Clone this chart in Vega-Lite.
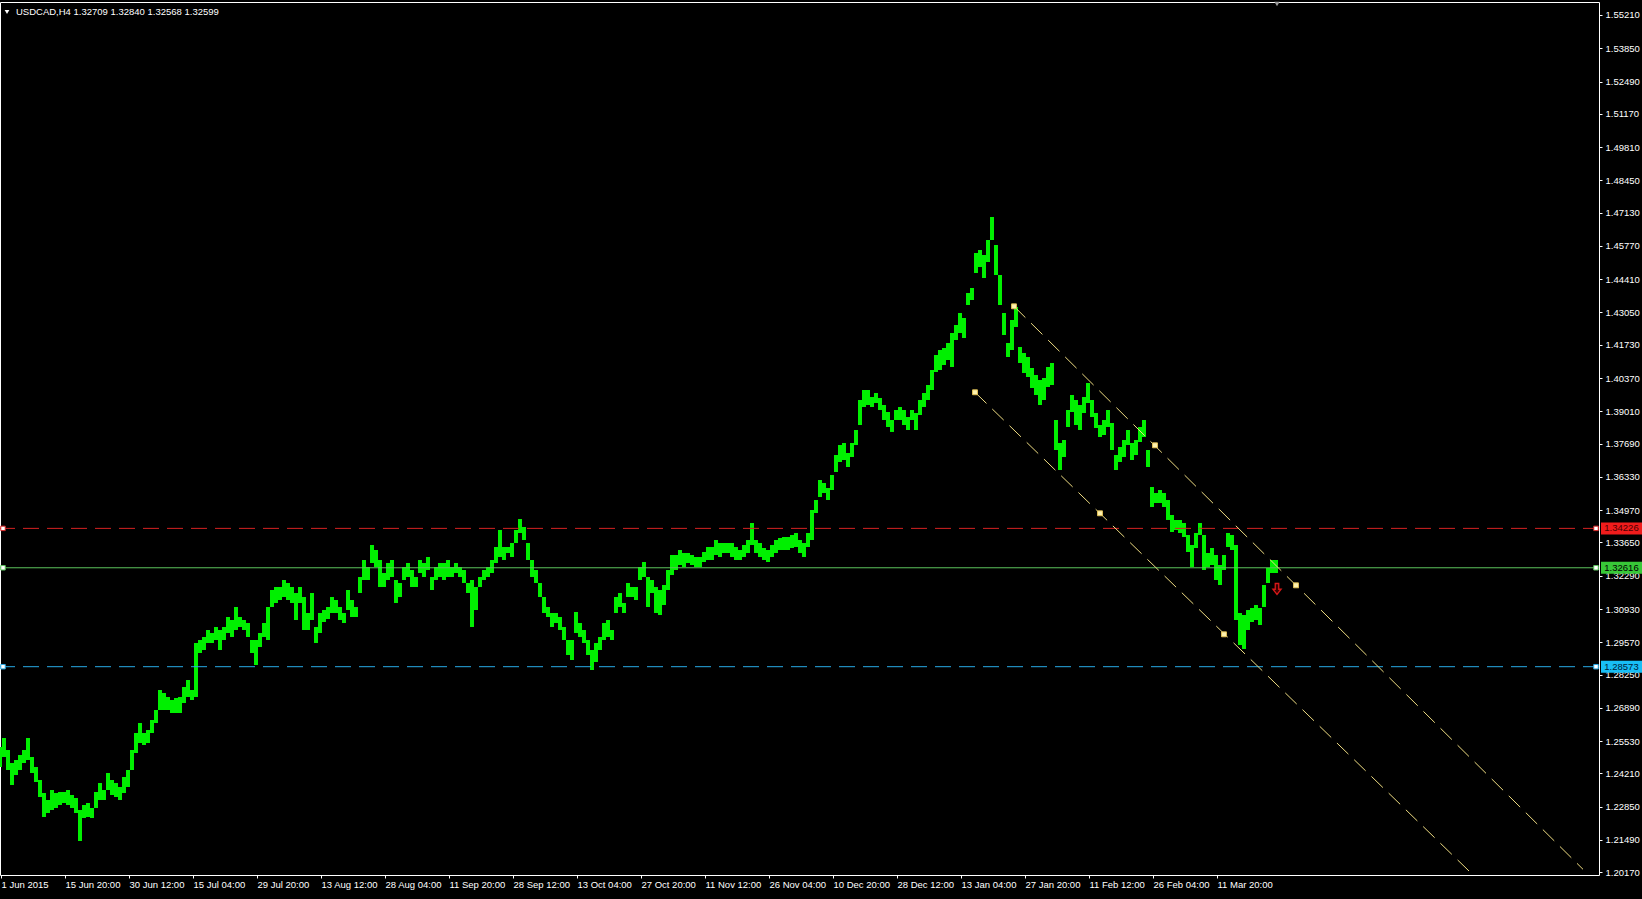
{
"$schema":"https://vega.github.io/schema/vega-lite/v6.json",
"width":1599,"height":873,
"autosize":{"type":"none"},
"padding":{"left":0,"top":2,"right":43,"bottom":24},
"background":"#000000",
"config":{"view":{"stroke":"#FFFFFF","strokeWidth":1,"fill":"#000000"},"font":"Liberation Sans",
"axis":{"domain":false,"grid":false,"ticks":true,"tickColor":"#FFFFFF","tickWidth":1,"labelColor":"#FFFFFF","labelFont":"Liberation Sans","labelFontSize":9.5,"labelOverlap":false},
"axisX":{"tickSize":3,"labelAlign":"left","labelBaseline":"top","labelPadding":1,"labelDx":3,"labelFlush":false},
"axisY":{"tickSize":3,"labelPadding":3,"labelAlign":"left","labelBaseline":"middle","labelFlush":false}},
"datasets":{
"bars":[
{"t":0,"h":1.25291,"l":1.24474},{"t":4,"h":1.25659,"l":1.24882},{"t":8,"h":1.25168,"l":1.24351},{"t":12,"h":1.24637,"l":1.23738},{"t":16,"h":1.24760,"l":1.24147},{"t":20,"h":1.24964,"l":1.24351},{"t":24,"h":1.25168,"l":1.24637},{"t":28,"h":1.25659,"l":1.24760},{"t":32,"h":1.24882,"l":1.24228},{"t":36,"h":1.24474,"l":1.23860},{"t":40,"h":1.23942,"l":1.23247},{"t":44,"h":1.23411,"l":1.22430},{"t":48,"h":1.23125,"l":1.22594},{"t":52,"h":1.23533,"l":1.22716},{"t":56,"h":1.23411,"l":1.22798},{"t":60,"h":1.23452,"l":1.22921},{"t":64,"h":1.23452,"l":1.23002},{"t":68,"h":1.23533,"l":1.22921},{"t":72,"h":1.23329,"l":1.22798},{"t":76,"h":1.23206,"l":1.22594},{"t":80,"h":1.22716,"l":1.21449},{"t":84,"h":1.22921,"l":1.22389},{"t":88,"h":1.23002,"l":1.22430},{"t":92,"h":1.22798,"l":1.22389},{"t":96,"h":1.23452,"l":1.22798},{"t":100,"h":1.23820,"l":1.23125},{"t":104,"h":1.23533,"l":1.23125},{"t":108,"h":1.24228,"l":1.23533},{"t":112,"h":1.23942,"l":1.23329},{"t":116,"h":1.23820,"l":1.23247},{"t":120,"h":1.23656,"l":1.23125},{"t":124,"h":1.24065,"l":1.23411},{"t":128,"h":1.24351,"l":1.23656},{"t":132,"h":1.25168,"l":1.24351},{"t":136,"h":1.25864,"l":1.25045},{"t":140,"h":1.26272,"l":1.25454},{"t":144,"h":1.25864,"l":1.25373},{"t":148,"h":1.25986,"l":1.25454},{"t":152,"h":1.26395,"l":1.25864},{"t":156,"h":1.26803,"l":1.26272},{"t":160,"h":1.27621,"l":1.26803},{"t":164,"h":1.27498,"l":1.26803},{"t":168,"h":1.27335,"l":1.26803},{"t":172,"h":1.27212,"l":1.26681},{"t":176,"h":1.27294,"l":1.26681},{"t":180,"h":1.27335,"l":1.26681},{"t":184,"h":1.27743,"l":1.27089},{"t":188,"h":1.28029,"l":1.27335},{"t":192,"h":1.27621,"l":1.27212},{"t":196,"h":1.29542,"l":1.27335},{"t":200,"h":1.29665,"l":1.29133},{"t":204,"h":1.29787,"l":1.29256},{"t":208,"h":1.30073,"l":1.29542},{"t":212,"h":1.29950,"l":1.29542},{"t":216,"h":1.30196,"l":1.29665},{"t":220,"h":1.30073,"l":1.29256},{"t":224,"h":1.30196,"l":1.29665},{"t":228,"h":1.30604,"l":1.29950},{"t":232,"h":1.30482,"l":1.29787},{"t":236,"h":1.31013,"l":1.30073},{"t":240,"h":1.30604,"l":1.30196},{"t":244,"h":1.30482,"l":1.30073},{"t":248,"h":1.30359,"l":1.29787},{"t":252,"h":1.29665,"l":1.29133},{"t":256,"h":1.29665,"l":1.28642},{"t":260,"h":1.29950,"l":1.29379},{"t":264,"h":1.30359,"l":1.29787},{"t":268,"h":1.31013,"l":1.29665},{"t":272,"h":1.31708,"l":1.31013},{"t":276,"h":1.31830,"l":1.31176},{"t":280,"h":1.31830,"l":1.31299},{"t":284,"h":1.32116,"l":1.31422},{"t":288,"h":1.31994,"l":1.31299},{"t":292,"h":1.31830,"l":1.31176},{"t":296,"h":1.31585,"l":1.30482},{"t":300,"h":1.31830,"l":1.31176},{"t":304,"h":1.31422,"l":1.30073},{"t":308,"h":1.30768,"l":1.30073},{"t":312,"h":1.31585,"l":1.30482},{"t":316,"h":1.30196,"l":1.29542},{"t":320,"h":1.30768,"l":1.29950},{"t":324,"h":1.30890,"l":1.30400},{"t":328,"h":1.31013,"l":1.30522},
{"t":332,"h":1.31422,"l":1.30768},{"t":336,"h":1.31299,"l":1.30768},{"t":340,"h":1.31013,"l":1.30482},{"t":344,"h":1.30768,"l":1.30359},{"t":348,"h":1.31708,"l":1.30890},{"t":352,"h":1.31299,"l":1.30604},{"t":356,"h":1.31013,"l":1.30604},{"t":360,"h":1.32238,"l":1.31585},{"t":364,"h":1.32934,"l":1.32116},{"t":368,"h":1.32647,"l":1.32116},{"t":372,"h":1.33548,"l":1.32811},{"t":376,"h":1.33343,"l":1.32647},{"t":380,"h":1.32934,"l":1.31830},{"t":384,"h":1.32402,"l":1.31830},{"t":388,"h":1.32811,"l":1.32116},{"t":392,"h":1.32934,"l":1.32238},{"t":396,"h":1.32116,"l":1.31176},{"t":400,"h":1.31994,"l":1.31422},{"t":404,"h":1.32647,"l":1.32116},{"t":408,"h":1.32811,"l":1.32238},{"t":412,"h":1.32525,"l":1.31830},{"t":416,"h":1.32238,"l":1.31830},{"t":420,"h":1.32934,"l":1.32402},{"t":424,"h":1.32811,"l":1.32238},{"t":428,"h":1.33056,"l":1.32525},{"t":432,"h":1.32238,"l":1.31708},{"t":436,"h":1.32647,"l":1.32116},{"t":440,"h":1.32811,"l":1.32238},{"t":444,"h":1.32811,"l":1.32116},{"t":448,"h":1.32934,"l":1.32238},{"t":452,"h":1.32647,"l":1.32238},{"t":456,"h":1.32811,"l":1.32402},{"t":460,"h":1.32647,"l":1.32238},{"t":464,"h":1.32525,"l":1.31994},{"t":468,"h":1.31994,"l":1.31585},{"t":472,"h":1.32116,"l":1.30196},{"t":476,"h":1.31830,"l":1.30890},{"t":480,"h":1.32238,"l":1.31830},{"t":484,"h":1.32525,"l":1.32116},{"t":488,"h":1.32647,"l":1.32238},{"t":492,"h":1.32934,"l":1.32402},{"t":496,"h":1.33466,"l":1.32811},{"t":500,"h":1.34160,"l":1.33056},{"t":504,"h":1.33466,"l":1.32934},{"t":508,"h":1.33466,"l":1.33220},{"t":512,"h":1.33629,"l":1.33056},{"t":516,"h":1.34160,"l":1.33629},{"t":520,"h":1.34611,"l":1.34038},{"t":524,"h":1.34284,"l":1.33752},{"t":528,"h":1.33629,"l":1.32934},{"t":532,"h":1.32934,"l":1.32238},{"t":536,"h":1.32525,"l":1.31994},{"t":540,"h":1.31994,"l":1.31422},{"t":544,"h":1.31422,"l":1.30768},{"t":548,"h":1.31013,"l":1.30604},{"t":552,"h":1.30768,"l":1.30196},{"t":556,"h":1.30768,"l":1.30359},{"t":560,"h":1.30604,"l":1.30073},{"t":564,"h":1.30196,"l":1.29665},{"t":568,"h":1.29665,"l":1.29052},{"t":572,"h":1.29665,"l":1.28847},{"t":576,"h":1.30809,"l":1.29950},{"t":580,"h":1.30359,"l":1.29787},{"t":584,"h":1.30073,"l":1.29542},{"t":588,"h":1.29665,"l":1.29052},{"t":592,"h":1.29256,"l":1.28438},{"t":596,"h":1.29542,"l":1.28765},{"t":600,"h":1.29787,"l":1.29256},{"t":604,"h":1.30359,"l":1.29665},{"t":608,"h":1.30482,"l":1.29787},{"t":612,"h":1.30073,"l":1.29665},{"t":616,"h":1.31422,"l":1.30768},{"t":620,"h":1.31585,"l":1.31013},{"t":624,"h":1.31176,"l":1.30768},{"t":628,"h":1.31994,"l":1.31422},{"t":632,"h":1.31830,"l":1.31422},{"t":636,"h":1.31830,"l":1.31299},{"t":640,"h":1.32647,"l":1.32116},{"t":644,"h":1.32852,"l":1.32238},{"t":648,"h":1.32238,"l":1.31013},{"t":652,"h":1.32116,"l":1.31585},{"t":656,"h":1.31830,"l":1.30768},{"t":660,"h":1.31708,"l":1.30686},
{"t":664,"h":1.31912,"l":1.31095},{"t":668,"h":1.32525,"l":1.31708},{"t":672,"h":1.33138,"l":1.32320},{"t":676,"h":1.33138,"l":1.32525},{"t":680,"h":1.33343,"l":1.32729},{"t":684,"h":1.33220,"l":1.32647},{"t":688,"h":1.33220,"l":1.32811},{"t":692,"h":1.33138,"l":1.32729},{"t":696,"h":1.33056,"l":1.32647},{"t":700,"h":1.33056,"l":1.32647},{"t":704,"h":1.33261,"l":1.32852},{"t":708,"h":1.33466,"l":1.32934},{"t":712,"h":1.33466,"l":1.32934},{"t":716,"h":1.33752,"l":1.33138},{"t":720,"h":1.33629,"l":1.33056},{"t":724,"h":1.33629,"l":1.33220},{"t":728,"h":1.33629,"l":1.33220},{"t":732,"h":1.33629,"l":1.33056},{"t":736,"h":1.33466,"l":1.32934},{"t":740,"h":1.33343,"l":1.32934},{"t":744,"h":1.33548,"l":1.33056},{"t":748,"h":1.33752,"l":1.33220},{"t":752,"h":1.34447,"l":1.33548},{"t":756,"h":1.33752,"l":1.33220},{"t":760,"h":1.33629,"l":1.33056},{"t":764,"h":1.33425,"l":1.32934},{"t":768,"h":1.33343,"l":1.32852},{"t":772,"h":1.33548,"l":1.33056},{"t":776,"h":1.33752,"l":1.33220},{"t":780,"h":1.33834,"l":1.33343},{"t":784,"h":1.33875,"l":1.33343},{"t":788,"h":1.33875,"l":1.33343},{"t":792,"h":1.33957,"l":1.33425},{"t":796,"h":1.34038,"l":1.33466},{"t":800,"h":1.33752,"l":1.33220},{"t":804,"h":1.33629,"l":1.33056},{"t":808,"h":1.34038,"l":1.33466},{"t":812,"h":1.34978,"l":1.33752},{"t":816,"h":1.35387,"l":1.34856},{"t":820,"h":1.36204,"l":1.35509},{"t":824,"h":1.36081,"l":1.35672},{"t":828,"h":1.35877,"l":1.35387},{"t":832,"h":1.36408,"l":1.35795},{"t":836,"h":1.37226,"l":1.36531},{"t":840,"h":1.37635,"l":1.36939},{"t":844,"h":1.37716,"l":1.37021},{"t":848,"h":1.37307,"l":1.36735},{"t":852,"h":1.37716,"l":1.37144},{"t":856,"h":1.38248,"l":1.37635},{"t":860,"h":1.39474,"l":1.38452},{"t":864,"h":1.39883,"l":1.39188},{"t":868,"h":1.39883,"l":1.39270},{"t":872,"h":1.39597,"l":1.39188},{"t":876,"h":1.39760,"l":1.39351},{"t":880,"h":1.39556,"l":1.39065},{"t":884,"h":1.39270,"l":1.38657},{"t":888,"h":1.38983,"l":1.38370},{"t":892,"h":1.38657,"l":1.38167},{"t":896,"h":1.39065,"l":1.38657},{"t":900,"h":1.39188,"l":1.38657},{"t":904,"h":1.39065,"l":1.38452},{"t":908,"h":1.38779,"l":1.38248},{"t":912,"h":1.39065,"l":1.38657},{"t":916,"h":1.38943,"l":1.38248},{"t":920,"h":1.39474,"l":1.38861},{"t":924,"h":1.39760,"l":1.39188},{"t":928,"h":1.40087,"l":1.39474},{"t":932,"h":1.40700,"l":1.39883},{"t":936,"h":1.41313,"l":1.40618},{"t":940,"h":1.41517,"l":1.40700},{"t":944,"h":1.41599,"l":1.40904},{"t":948,"h":1.41803,"l":1.41108},{"t":952,"h":1.42212,"l":1.40823},{"t":956,"h":1.42539,"l":1.41926},{"t":960,"h":1.43030,"l":1.42212},{"t":964,"h":1.42825,"l":1.42008},{"t":968,"h":1.43847,"l":1.43357},{"t":972,"h":1.44052,"l":1.43561},{"t":976,"h":1.45482,"l":1.44665},{"t":980,"h":1.45605,"l":1.44910},{"t":984,"h":1.45400,"l":1.44461},{"t":988,"h":1.46013,"l":1.45114},{"t":992,"h":1.46954,"l":1.46013},{"t":996,"h":1.45809,"l":1.44583},{"t":1000,"h":1.44583,"l":1.43357},{"t":1004,"h":1.43030,"l":1.42131},{"t":1008,"h":1.41803,"l":1.41231},{"t":1012,"h":1.42744,"l":1.41517},{"t":1016,"h":1.43275,"l":1.42458},{"t":1020,"h":1.41640,"l":1.40986},{"t":1024,"h":1.41395,"l":1.40577},{"t":1028,"h":1.41231,"l":1.40414},{"t":1032,"h":1.40782,"l":1.39965},{"t":1036,"h":1.40496,"l":1.39678},{"t":1040,"h":1.40291,"l":1.39270},{"t":1044,"h":1.40373,"l":1.39474},{"t":1048,"h":1.40823,"l":1.40005},{"t":1052,"h":1.40986,"l":1.40087},{"t":1056,"h":1.38657,"l":1.37430},{"t":1060,"h":1.37716,"l":1.36613},{"t":1064,"h":1.37839,"l":1.37144},{"t":1068,"h":1.39065,"l":1.38370},{"t":1072,"h":1.39678,"l":1.38983},{"t":1076,"h":1.39474,"l":1.38452},{"t":1080,"h":1.39270,"l":1.38248},{"t":1084,"h":1.39597,"l":1.38943},{"t":1088,"h":1.40169,"l":1.39351},{"t":1092,"h":1.39474,"l":1.38779},{"t":1096,"h":1.38943,"l":1.38330},{"t":1100,"h":1.38452,"l":1.37962},{"t":1104,"h":1.38657,"l":1.38044},{"t":1108,"h":1.39065,"l":1.38370},{"t":1112,"h":1.38534,"l":1.37430},{"t":1116,"h":1.37226,"l":1.36613},{"t":1120,"h":1.37553,"l":1.36939},{"t":1124,"h":1.37839,"l":1.37144},{"t":1128,"h":1.38248,"l":1.37635},{"t":1132,"h":1.37716,"l":1.37021},{"t":1136,"h":1.37839,"l":1.37226},{"t":1140,"h":1.38370,"l":1.37757},{"t":1144,"h":1.38657,"l":1.37962},{"t":1148,"h":1.37430,"l":1.36735},{"t":1152,"h":1.35918,"l":1.35101},{"t":1156,"h":1.35672,"l":1.35264},{"t":1160,"h":1.35795,"l":1.35264},{"t":1164,"h":1.35672,"l":1.35101},{"t":1168,"h":1.35387,"l":1.34570},{"t":1172,"h":1.34774,"l":1.34079},{"t":1176,"h":1.34570,"l":1.34160},{"t":1180,"h":1.34570,"l":1.34038},{"t":1184,"h":1.34447,"l":1.33875},{"t":1188,"h":1.33957,"l":1.33261},{"t":1192,"h":1.33548,"l":1.32647},{"t":1196,"h":1.34038,"l":1.33425},{"t":1200,"h":1.34447,"l":1.33957},{"t":1204,"h":1.33957,"l":1.32525},{"t":1208,"h":1.33220,"l":1.32647},{"t":1212,"h":1.33425,"l":1.32729},{"t":1216,"h":1.33138,"l":1.32116},{"t":1220,"h":1.32729,"l":1.31912},{"t":1224,"h":1.33138,"l":1.32525},{"t":1228,"h":1.34038,"l":1.33466},{"t":1232,"h":1.33957,"l":1.33343},{"t":1236,"h":1.33548,"l":1.30482},{"t":1240,"h":1.30768,"l":1.29460},{"t":1244,"h":1.30686,"l":1.29297},{"t":1248,"h":1.30890,"l":1.30073},{"t":1252,"h":1.30972,"l":1.30400},{"t":1256,"h":1.31095,"l":1.30482},{"t":1260,"h":1.30972,"l":1.30277},{"t":1264,"h":1.31912,"l":1.31013},{"t":1268,"h":1.32607,"l":1.31994},{"t":1272,"h":1.32934,"l":1.32402},{"t":1276,"h":1.32934,"l":1.32402}
],
"levels":[{"name":"r","p":1.34226},{"name":"g","p":1.32616},{"name":"b","p":1.28573}],
"channel":[{"ln":"upper","t":1014,"p":1.43303},{"ln":"upper","t":1583,"p":1.20292},{"ln":"lower","t":975,"p":1.39789},{"ln":"lower","t":1469,"p":1.20223}],
"anchors":[{"t":1014,"p":1.43303},{"t":1155,"p":1.37622},{"t":1296,"p":1.31899},{"t":975,"p":1.39789},{"t":1100,"p":1.34843},{"t":1224,"p":1.29897}],
"signal":[{"t":1277,"p":1.31749}],
"shift":[{"t":1277,"p":1.5566}],
"header":[{"t":16,"p":1.55334,"label":"USDCAD,H4  1.32709 1.32840 1.32568 1.32599"}]
},
"layer":[
{"data":{"name":"bars"},"mark":{"type":"rule","color":"#00F000","strokeWidth":4},
"encoding":{
"x":{"field":"t","type":"quantitative","title":null,"scale":{"domain":[0,1599],"nice":false,"zero":false},
"axis":{"labelOverlap":false,"tickCount":60,"values":[1,65,129,193,257,321,385,449,513,577,641,705,769,833,897,961,1025,1089,1153,1217],
"labelExpr":"['1 Jun 2015','15 Jun 20:00','30 Jun 12:00','15 Jul 04:00','29 Jul 20:00','13 Aug 12:00','28 Aug 04:00','11 Sep 20:00','28 Sep 12:00','13 Oct 04:00','27 Oct 20:00','11 Nov 12:00','26 Nov 04:00','10 Dec 20:00','28 Dec 12:00','13 Jan 04:00','27 Jan 20:00','11 Feb 12:00','26 Feb 04:00','11 Mar 20:00'][round((datum.value-1)/64)]"}},
"y":{"field":"h","type":"quantitative","title":null,"scale":{"domain":[1.20059,1.55741],"nice":false,"zero":false},
"axis":{"orient":"right","format":".5f","labelOverlap":false,"tickCount":60,"values":[1.2017,1.2149,1.2285,1.2421,1.2553,1.2689,1.2825,1.2957,1.3093,1.3229,1.3365,1.3497,1.3633,1.3769,1.3901,1.4037,1.4173,1.4305,1.4441,1.4577,1.4713,1.4845,1.4981,1.5117,1.5249,1.5385,1.5521]}},
"y2":{"field":"l"}}},
{"data":{"name":"levels"},"mark":{"type":"rule","strokeWidth":1},
"encoding":{"y":{"field":"p","type":"quantitative","title":null},
"stroke":{"field":"name","type":"nominal","legend":null,"scale":{"domain":["r","g","b"],"range":["#D42222","#5CC45C","#28AAE6"]}},
"strokeDash":{"field":"name","type":"nominal","legend":null,"scale":{"domain":["r","g","b"],"range":[[16,8],[1,0],[16,8]]}}}},
{"data":{"name":"levels"},"mark":{"type":"point","shape":"square","size":20,"filled":false,"fill":"#FFFFFF","fillOpacity":1,"strokeWidth":1,"opacity":1},
"encoding":{"x":{"datum":3,"type":"quantitative","title":null},"y":{"field":"p","type":"quantitative","title":null},
"stroke":{"field":"name","type":"nominal","legend":null}}},
{"data":{"name":"levels"},"mark":{"type":"point","shape":"square","size":20,"filled":false,"fill":"#FFFFFF","fillOpacity":1,"strokeWidth":1,"opacity":1},
"encoding":{"x":{"datum":1596,"type":"quantitative","title":null},"y":{"field":"p","type":"quantitative","title":null},
"stroke":{"field":"name","type":"nominal","legend":null}}},
{"data":{"name":"levels"},"mark":{"type":"rect","width":41,"height":12},
"encoding":{"x":{"datum":1621.5,"type":"quantitative","title":null},"y":{"field":"p","type":"quantitative","title":null},
"fill":{"field":"name","type":"nominal","legend":null,"scale":{"domain":["r","g","b"],"range":["#F01C1C","#38C838","#18BEF5"]}}}},
{"data":{"name":"levels"},"mark":{"type":"text","align":"center","baseline":"middle","font":"Liberation Sans","fontSize":9.5},
"encoding":{"x":{"datum":1621.5,"type":"quantitative","title":null},"y":{"field":"p","type":"quantitative","title":null},
"text":{"field":"p","type":"quantitative","format":".5f"},
"color":{"field":"name","type":"nominal","legend":null,"scale":{"domain":["r","g","b"],"range":["#4A0000","#000000","#00203A"]}}}},
{"data":{"name":"channel"},"mark":{"type":"line","color":"#EEDC82","strokeWidth":1,"strokeDash":[16,8]},
"encoding":{"x":{"field":"t","type":"quantitative","title":null},"y":{"field":"p","type":"quantitative","title":null},"detail":{"field":"ln"}}},
{"data":{"name":"anchors"},"mark":{"type":"point","shape":"square","size":24,"filled":true,"color":"#FFF3B0","stroke":"#E2C055","strokeWidth":1,"opacity":1},
"encoding":{"x":{"field":"t","type":"quantitative","title":null},"y":{"field":"p","type":"quantitative","title":null}}},
{"data":{"name":"signal"},"mark":{"type":"point","shape":"M-0.32,-1L0.32,-1L0.32,0.05L0.75,0.05L0,1L-0.75,0.05L-0.32,0.05Z","size":120,"filled":false,"fill":"#3A0000","fillOpacity":1,"stroke":"#D81818","strokeWidth":1.3,"opacity":1},
"encoding":{"x":{"field":"t","type":"quantitative","title":null},"y":{"field":"p","type":"quantitative","title":null}}},
{"data":{"name":"shift"},"mark":{"type":"point","shape":"triangle-down","size":28,"filled":true,"color":"#9A9A9A","opacity":1},
"encoding":{"x":{"field":"t","type":"quantitative","title":null},"y":{"field":"p","type":"quantitative","title":null}}},
{"data":{"name":"header"},"mark":{"type":"point","shape":"triangle-down","size":22,"filled":true,"color":"#FFFFFF","opacity":1,"xOffset":-9},
"encoding":{"x":{"field":"t","type":"quantitative","title":null},"y":{"field":"p","type":"quantitative","title":null}}},
{"data":{"name":"header"},"mark":{"type":"text","align":"left","baseline":"middle","color":"#FFFFFF","font":"Liberation Sans","fontSize":9.5},
"encoding":{"x":{"field":"t","type":"quantitative","title":null},"y":{"field":"p","type":"quantitative","title":null},"text":{"field":"label"}}}
]
}
